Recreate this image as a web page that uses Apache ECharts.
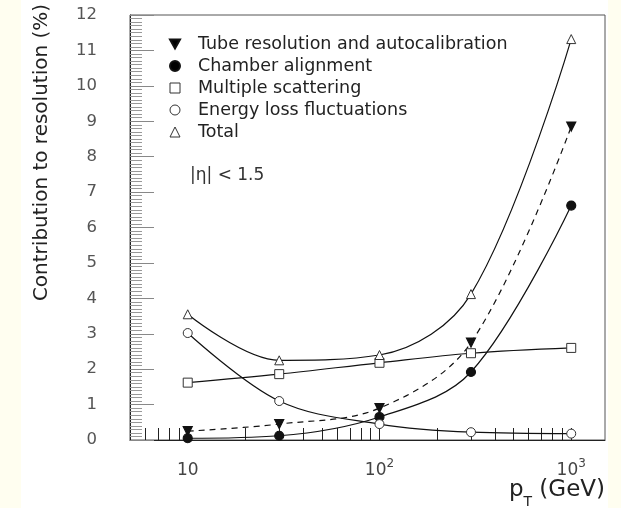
<!DOCTYPE html>
<html>
<head>
<meta charset="utf-8">
<script src="https://cdn.jsdelivr.net/npm/echarts@6/dist/echarts.min.js"></script>
<style>
  html, body { margin: 0; padding: 0; background: #fffef0; }
  #chart { position: absolute; left: 21px; top: 0; width: 587px; height: 508px; background: #fff; }
</style>
</head>
<body>
<div id="chart"></div>
<script>
// pT points (GeV)
const ptValues = [10, 30, 100, 300, 1000];

// contributions to resolution (%)
const tubeRes = [0.25, 0.45, 0.9, 2.75, 8.85];
const chamberAlign = [0.05, 0.12, 0.65, 1.92, 6.62];
const multScatter = [1.62, 1.86, 2.18, 2.45, 2.6];
const energyLoss = [3.02, 1.1, 0.45, 0.22, 0.18];
const totalRes = [3.55, 2.25, 2.4, 4.12, 11.32];

const seriesNames = [
  'Tube resolution and autocalibration',
  'Chamber alignment',
  'Multiple scattering',
  'Energy loss fluctuations',
  'Total'
];

const xTickValues = [6, 7, 8, 9, 10, 20, 30, 40, 50, 60, 70, 80, 90, 100, 200, 300, 400, 500, 600, 700, 800, 900, 1000];
const xLabelValues = [10, 100, 1000];

function pairs(ys) {
  return ptValues.map((x, i) => [x, ys[i]]);
}

const FONT = 'DejaVu Sans, Liberation Sans, sans-serif';
const chart = echarts.init(document.getElementById('chart'));

const lineBase = {
  type: 'line',
  smooth: 0.35,
  symbolSize: 9,
  lineStyle: { color: '#111', width: 1.2 },
  itemStyle: { color: '#111', borderColor: '#111', borderWidth: 1.2 }
};

const openMark = { color: '#fff', borderColor: '#333', borderWidth: 1 };

const option = {
  backgroundColor: '#fff',
  animation: false,
  textStyle: { fontFamily: FONT },
  grid: {
    left: 109, right: 3, top: 15, bottom: 68,
    outerBoundsMode: 'none',
    show: true, borderColor: '#555', borderWidth: 1
  },
  legend: {
    orient: 'vertical',
    left: 143,
    top: 30,
    itemWidth: 10,
    itemHeight: 10,
    itemGap: 4,
    selectedMode: false,
    textStyle: { fontSize: 17.5, color: '#222', padding: [0, 0, 0, 13], fontFamily: FONT },
    data: [
      { name: seriesNames[0], icon: 'path://M0,0L10,0L5,9Z', itemStyle: { color: '#000' } },
      { name: seriesNames[1], icon: 'circle', itemStyle: { color: '#000' } },
      { name: seriesNames[2], icon: 'rect', itemStyle: openMark },
      { name: seriesNames[3], icon: 'circle', itemStyle: openMark },
      { name: seriesNames[4], icon: 'triangle', itemStyle: openMark }
    ]
  },
  xAxis: {
    type: 'log',
    min: 5,
    max: 1500,
    axisLine: { lineStyle: { color: '#222', width: 1 } },
    axisTick: {
      inside: true,
      length: 12,
      customValues: xTickValues,
      lineStyle: { color: '#222', width: 1 }
    },
    splitLine: { show: false },
    axisLabel: {
      customValues: xLabelValues,
      margin: 18,
      color: '#444',
      formatter: v => {
        if (Math.abs(v - 10) < 1e-6) return '{b|10}';
        if (Math.abs(v - 100) < 1e-6) return '{b|10}{s|2}';
        if (Math.abs(v - 1000) < 1e-6) return '{b|10}{s|3}';
        return '';
      },
      rich: {
        b: { fontSize: 17, lineHeight: 26, color: '#444', fontFamily: FONT },
        s: { fontSize: 12, lineHeight: 12, verticalAlign: 'top', color: '#444', fontFamily: FONT }
      }
    },
    name: '{p|p}{t|T}{p| (GeV)}',
    nameLocation: 'end',
    nameGap: 0,
    nameMoveOverlap: false,
    nameTextStyle: {
      align: 'right',
      verticalAlign: 'top',
      padding: [35, 0, 0, 0],
      rich: {
        p: { fontSize: 23, color: '#222', lineHeight: 30, fontFamily: FONT },
        t: { fontSize: 14, color: '#222', lineHeight: 30, verticalAlign: 'bottom', padding: [0, 0, -4, 0], fontFamily: FONT }
      }
    }
  },
  yAxis: {
    type: 'value',
    min: 0,
    max: 12,
    interval: 1,
    axisLine: { show: true, lineStyle: { color: '#222', width: 1 } },
    axisTick: { inside: true, length: 24, lineStyle: { color: '#888' } },
    minorTick: { show: true, splitNumber: 10, length: 12, lineStyle: { color: '#999' } },
    splitLine: { show: false },
    axisLabel: { fontSize: 16.5, color: '#555', margin: 33, fontFamily: FONT },
    name: 'Contribution to resolution (%)',
    nameLocation: 'middle',
    nameGap: 78,
    nameTextStyle: { fontSize: 20, color: '#222', padding: [0, 0, 0, 150], fontFamily: FONT }
  },
  graphic: [
    {
      type: 'text',
      left: 169,
      top: 167,
      style: { text: '|η| < 1.5', fontSize: 17, fill: '#333', fontFamily: FONT }
    }
  ],
  series: [
    Object.assign({}, lineBase, {
      name: seriesNames[0],
      data: pairs(tubeRes),
      symbol: 'triangle',
      symbolRotate: 180,
      lineStyle: { color: '#111', width: 1.2, type: [6, 5] }
    }),
    Object.assign({}, lineBase, {
      name: seriesNames[1],
      data: pairs(chamberAlign),
      symbol: 'circle'
    }),
    Object.assign({}, lineBase, {
      name: seriesNames[2],
      data: pairs(multScatter),
      symbol: 'rect',
      itemStyle: openMark
    }),
    Object.assign({}, lineBase, {
      name: seriesNames[3],
      data: pairs(energyLoss),
      symbol: 'circle',
      itemStyle: openMark
    }),
    Object.assign({}, lineBase, {
      name: seriesNames[4],
      data: pairs(totalRes),
      symbol: 'triangle',
      itemStyle: openMark
    })
  ]
};

chart.setOption(option);
</script>
</body>
</html>
